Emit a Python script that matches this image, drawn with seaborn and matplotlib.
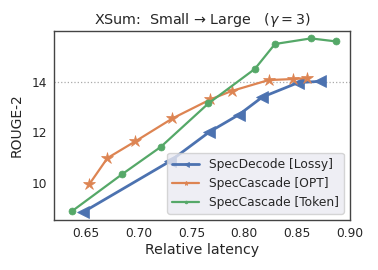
import numpy as np
import pandas as pd
import seaborn as sns
import matplotlib.pyplot as plt

# values
lossy_x = [0.647, 0.7295, 0.767, 0.795, 0.817, 0.851, 0.872]
lossy_y = [8.85, 10.86, 12.02, 12.70, 13.39, 13.96, 14.01]

opt_x = [0.6535, 0.6705, 0.697, 0.732, 0.768, 0.788, 0.823, 0.846, 0.859]
opt_y = [9.97, 10.99, 11.65, 12.55, 13.30, 13.63, 14.06, 14.10, 14.14]

token_x = [0.637, 0.6846, 0.721, 0.766, 0.810, 0.829, 0.863, 0.887]
token_y = [8.90, 10.36, 11.43, 13.14, 14.50, 15.48, 15.70, 15.58]

labels = ["SpecDecode [Lossy]", "SpecCascade [OPT]", "SpecCascade [Token]"]

sns.set_theme(style="white", palette="deep")
colors = sns.color_palette("deep")

fig = plt.figure(figsize=(3.78, 2.70), dpi=100)
ax = fig.add_axes([0.143, 0.185, 0.783, 0.701])

ax.axhline(14, color="#aaaaaa", ls=":", lw=0.9, zorder=0)

series = [
    (lossy_x, lossy_y, "<", 9, 2.0, colors[0]),
    (opt_x, opt_y, "*", 9, 1.6, colors[1]),
    (token_x, token_y, "o", 5, 1.6, colors[2]),
]
for (xs, ys, m, ms, lw, c), lab in zip(series, labels):
    df = pd.DataFrame({"x": xs, "y": ys})
    sns.lineplot(data=df, x="x", y="y", ax=ax, color=c, marker=m,
                 markersize=ms, linewidth=lw, markeredgewidth=0.5,
                 markeredgecolor=c, sort=False, label=lab)

ax.set_xlim(0.62, 0.90)
ax.set_ylim(8.55, 16.0)
ax.set_xticks([0.65, 0.70, 0.75, 0.80, 0.85, 0.90])
ax.set_yticks([10, 12, 14])
ax.set_xlabel("Relative latency", fontsize=10.2, labelpad=2)
ax.set_ylabel("ROUGE-2", fontsize=10, labelpad=6)
ax.set_title(r"XSum:  Small → Large   ($\gamma = 3$)", fontsize=10.3, pad=5)
ax.tick_params(labelsize=8.8, length=0, pad=5)
for s in ax.spines.values():
    s.set_color("#444444")
    s.set_linewidth(1.0)

leg = ax.legend(loc="lower right", fontsize=8.8, markerscale=0.4,
                facecolor="#eaeaf2", edgecolor="#cccccc", framealpha=0.8,
                borderaxespad=0.5, handlelength=2.2)

fig.savefig("out.png", dpi=100)
